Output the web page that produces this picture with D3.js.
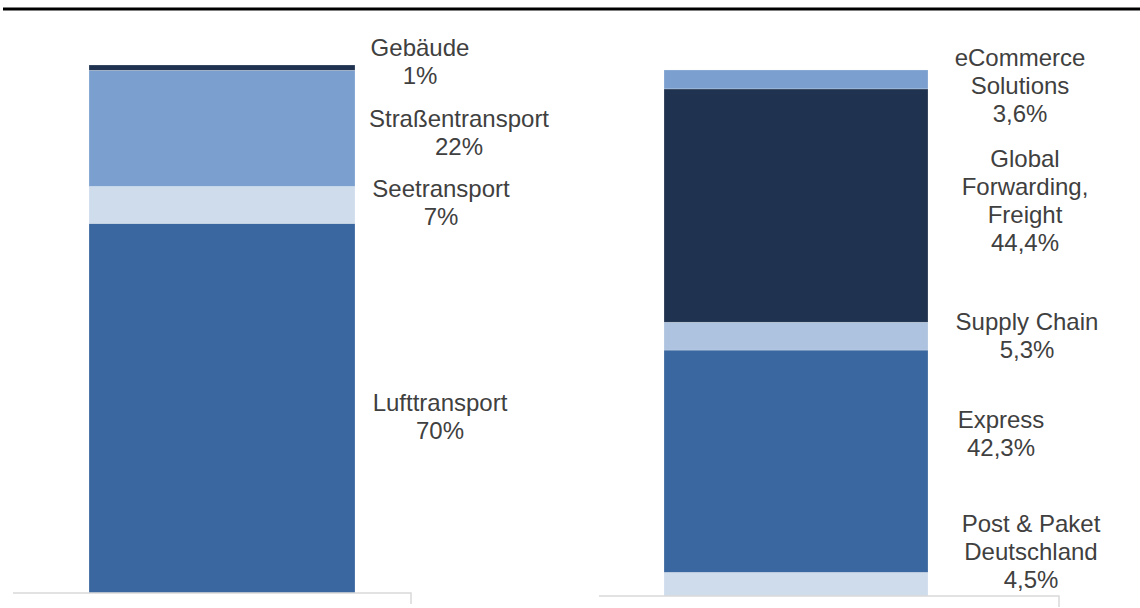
<!DOCTYPE html>
<html>
<head>
<meta charset="utf-8">
<script src="https://cdn.jsdelivr.net/npm/d3@7"></script>
<style>
  body { margin: 0; background: #fff; }
  text { font-family: "Liberation Sans", Arial, sans-serif; fill: #404040; }
</style>
</head>
<body>
<div id="chart"></div>
<script>
// DATA GOES HERE
var leftCategories = ['Lufttransport', 'Seetransport', 'Straßentransport', 'Gebäude'];
var leftValues = [70, 7, 22, 1];
var leftLabels = ['70%', '7%', '22%', '1%'];

var rightCategories = ['Post & Paket Deutschland', 'Express', 'Supply Chain', 'Global Forwarding, Freight', 'eCommerce Solutions'];
var rightValues = [4.5, 42.3, 5.3, 44.4, 3.6];
var rightLabels = ['4,5%', '42,3%', '5,3%', '44,4%', '3,6%'];

// colours per segment, bottom to top
var leftColors = ['#3a67a0', '#cfdcec', '#7ba0cf', '#1f3350'];
var rightColors = ['#cfdcec', '#3a67a0', '#adc3e0', '#1f3350', '#7ba0cf'];

// label text lines and where they sit (centre x, first baseline y)
var leftLabelLines = [['Lufttransport'], ['Seetransport'], ['Straßentransport'], ['Gebäude']];
var leftLabelPos = [[440, 411], [441, 197], [459, 127], [420, 56]];
var rightLabelLines = [['Post & Paket', 'Deutschland'], ['Express'], ['Supply Chain'], ['Global', 'Forwarding,', 'Freight'], ['eCommerce', 'Solutions']];
var rightLabelPos = [[1031, 532], [1001, 428], [1027, 330], [1025, 167], [1020, 66]];

var width = 1140;
var height = 608;
var lineHeight = 28;

document.addEventListener('DOMContentLoaded', function () {
  draw();
}, false);

function stackUp(values) {
  var acc = 0;
  return values.map(function(v){
    var seg = {y0: acc, y1: acc + v};
    acc += v;
    return seg;
  });
}

function drawPanel(svg, opts) {
  var x = d3.scaleBand()
    .domain([opts.name])
    .range(opts.barRange)
    .padding(0);

  var y = d3.scaleLinear()
    .domain([0, 100])
    .range(opts.yRange);

  var segs = stackUp(opts.values);

  var g = svg.append('g');

  g.selectAll('rect')
    .data(segs)
    .enter()
    .append('rect')
    .attr('x', x(opts.name))
    .attr('width', x.bandwidth())
    .attr('y', function(d){ return y(d.y1); })
    .attr('height', function(d){ return y(d.y0) - y(d.y1); })
    .attr('fill', function(d, i){ return opts.colors[i]; })
    .attr('stroke', 'rgba(255,255,255,0.35)')
    .attr('stroke-width', 0.6);

  // axis baseline with a small tick at its right end
  var base = y(0);
  g.append('path')
    .attr('d', 'M' + opts.axisRange[0] + ',' + base + 'H' + opts.axisRange[1] + 'V' + (base + 11))
    .attr('fill', 'none')
    .attr('stroke', '#d9d9d9')
    .attr('stroke-width', 1.5);

  var labels = g.selectAll('text.lab')
    .data(opts.values)
    .enter()
    .append('text')
    .attr('class', 'lab')
    .attr('text-anchor', 'middle')
    .style('font-size', '24px');

  labels.each(function(d, i){
    var t = d3.select(this);
    var pos = opts.labelPos[i];
    var lines = opts.labelLines[i].concat([opts.labels[i]]);
    lines.forEach(function(line, j){
      t.append('tspan')
        .attr('x', pos[0])
        .attr('y', pos[1] + j * lineHeight)
        .text(line);
    });
  });
}

function draw() {
  var svg = d3.select('#chart')
    .append('svg')
    .attr('width', width)
    .attr('height', height);

  // top rule
  svg.append('line')
    .attr('x1', 3)
    .attr('x2', width)
    .attr('y1', 9)
    .attr('y2', 9)
    .attr('stroke', '#000')
    .attr('stroke-width', 3);

  drawPanel(svg, {
    name: 'left',
    values: leftValues,
    labels: leftLabels,
    colors: leftColors,
    labelLines: leftLabelLines,
    labelPos: leftLabelPos,
    barRange: [89, 355],
    axisRange: [13, 411],
    yRange: [593, 65]
  });

  drawPanel(svg, {
    name: 'right',
    values: rightValues,
    labels: rightLabels,
    colors: rightColors,
    labelLines: rightLabelLines,
    labelPos: rightLabelPos,
    barRange: [664, 928],
    axisRange: [599, 1059],
    yRange: [596, 70.5]
  });
}
</script>
</body>
</html>
